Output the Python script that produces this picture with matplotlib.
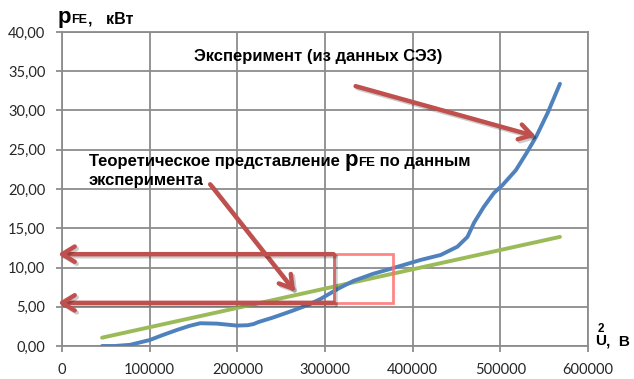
import matplotlib

matplotlib.use("Agg")
import matplotlib.pyplot as plt
import matplotlib.patheffects as pe
from matplotlib.patches import Rectangle
from matplotlib.ticker import FuncFormatter

W, H = 634, 379

# эксперимент (из данных СЭЗ): U^2, В^2 -> pFE, кВт
u2_exp = [45700, 60000, 77700, 100000, 115000, 131000, 145000, 157700, 176800,
          199600, 212000, 218600, 224000, 240000, 260600, 280000, 295000,
          315000, 332600, 355000, 377000, 409000, 432000, 451000, 462500,
          470000, 481000, 492700, 502500, 517700, 530000, 541000, 554000, 568000]
p_exp = [0.0, 0.0, 0.15, 0.76, 1.4, 2.04, 2.55, 2.9, 2.85,
         2.6, 2.65, 2.8, 3.05, 3.6, 4.4, 5.2, 6.0,
         7.3, 8.3, 9.2, 9.9, 10.96, 11.6, 12.65, 13.9,
         15.7, 17.7, 19.5, 20.5, 22.4, 24.6, 26.7, 29.7, 33.4]

# теоретическая прямая
u2_theory = [45700, 568000]
p_theory = [1.06, 13.9]

# уровни на оси pFE и окно вокруг пересечения
p_low, p_high = 5.5, 11.7
box_u2 = [309700, 378000]

x_ticks = [0, 100000, 200000, 300000, 400000, 500000, 600000]
y_ticks = [0, 5, 10, 15, 20, 25, 30, 35, 40]

RED = "#c0504d"
BLUE = "#4f81bd"
GREEN = "#9bbb59"
GRID = "#8c8c8c"
BOLD = dict(family="Liberation Sans", weight="bold", color="black")


def px(x, y):
    # пиксели от левого верхнего угла -> доли фигуры
    return x / W, 1 - y / H


fig = plt.figure(figsize=(W / 100, H / 100), dpi=100)
ax = fig.add_axes([62 / W, 1 - 346 / H, (588 - 62) / W, (346 - 32) / H])

ax.set_xlim(x_ticks[0], x_ticks[-1])
ax.set_ylim(y_ticks[0], y_ticks[-1])
ax.set_xticks(x_ticks)
ax.set_yticks(y_ticks)
ax.yaxis.set_major_formatter(FuncFormatter(lambda v, pos: "{:.2f}".format(v).replace(".", ",")))
ax.xaxis.set_major_formatter(FuncFormatter(lambda v, pos: "{:d}".format(int(v))))
ax.grid(True, color=GRID, linewidth=1.3)
ax.set_axisbelow(True)
for s in ax.spines.values():
    s.set_color(GRID)
    s.set_linewidth(1.3)
ax.tick_params(axis="both", colors=GRID, length=4, width=1.3, labelcolor="#262626")
ax.tick_params(axis="x", pad=8)
ax.tick_params(axis="y", pad=8)
for lab in ax.get_xticklabels() + ax.get_yticklabels():
    lab.set_family("Lato")
    lab.set_fontsize(10.5)

ax.plot(u2_theory, p_theory, color=GREEN, lw=2.8, solid_capstyle="round", zorder=3)
ax.plot(u2_exp, p_exp, color=BLUE, lw=2.8, solid_capstyle="round",
        solid_joinstyle="round", zorder=4)

# окно вокруг точки пересечения
ax.add_patch(Rectangle((box_u2[0], p_low), box_u2[1] - box_u2[0], p_high - p_low,
                       fill=False, ec="#ff7070", lw=2, alpha=0.85, zorder=5))

shadow = [pe.SimpleLineShadow(offset=(1.5, -1.5), shadow_color="k", alpha=0.2), pe.Normal()]
ax.plot([box_u2[0], box_u2[0]], [p_low, p_high], color="#d06a6a", lw=1.8, zorder=5,
        path_effects=shadow, clip_on=False)


def arrow(start, end):
    ax.annotate("", xy=end, xytext=start, annotation_clip=False,
                arrowprops=dict(arrowstyle="->,head_length=0.9,head_width=0.55",
                                color=RED, lw=3.2, shrinkA=0, shrinkB=0,
                                path_effects=shadow),
                zorder=6)


arrow((334900, 33.1), (540600, 26.7))
arrow((169000, 20.6), (266000, 6.9))
arrow((box_u2[0], p_high), (-4600, p_high))
arrow((box_u2[0], p_low), (-4600, p_low))


def chain(x, y, pieces):
    # цепочка кусков текста разного размера на одной базовой линии
    fx, fy = px(x, y)
    r = fig.canvas.get_renderer()
    for s, size in pieces:
        t = fig.text(fx, fy, s, fontsize=size, va="baseline", ha="left", **BOLD)
        bb = t.get_window_extent(renderer=r)
        fx = bb.x1 / W


chain(194, 61, [("Эксперимент (из данных СЭЗ)", 12)])
chain(89, 166, [("Теоретическое представление ", 12), ("p", 16), ("FE", 9.5),
                (" по данным", 12)])
chain(89, 185, [("эксперимента", 12)])
chain(58, 23, [("p", 16), ("FE", 9), (",   кВт", 11.5)])

chain(595, 345, [("U", 11), (",  B", 11)])
fx, fy = px(598, 332)
fig.text(fx, fy, "2", fontsize=8.5, va="baseline", ha="left", **BOLD)

fig.savefig("out.png", dpi=100)
